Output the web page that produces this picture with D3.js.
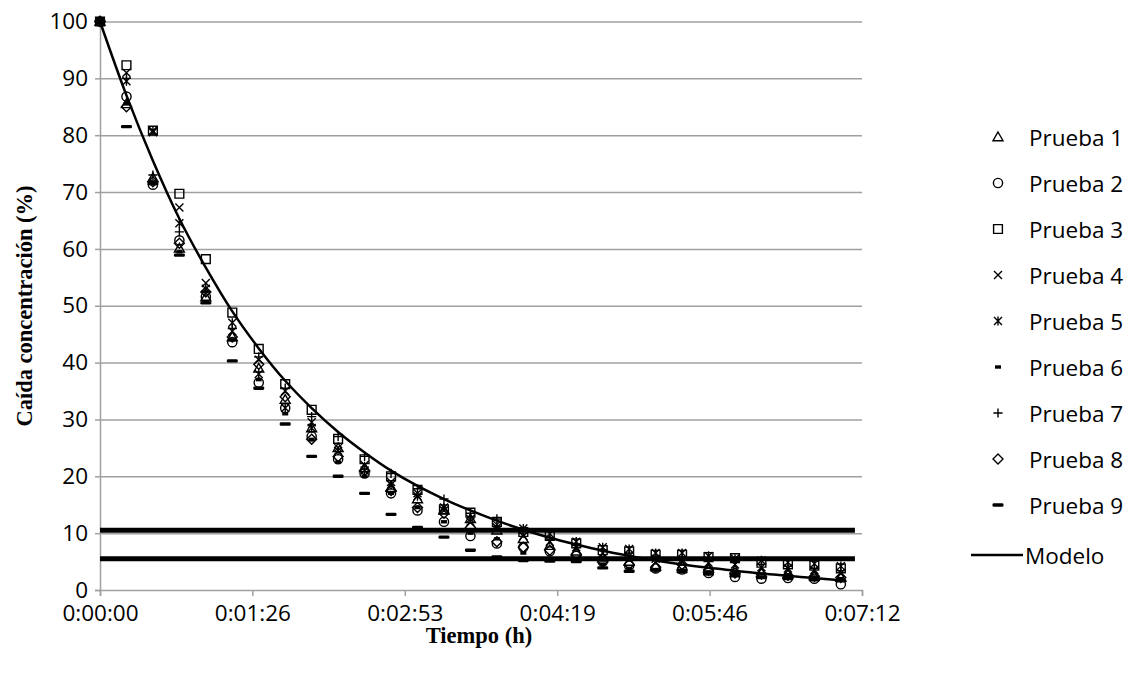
<!DOCTYPE html>
<html>
<head>
  <meta charset="utf-8">
  <title></title>
  <style>
    body { margin: 0; background: #fff; }
    text { font-family: "Open Sans", sans-serif; }
  </style>
</head>
<body>
  <script src="https://cdnjs.cloudflare.com/ajax/libs/d3/7.8.5/d3.min.js"></script>
  <script type="text/javascript">
    // tiempos de muestreo (s)
    var tiempos = [0, 15, 30, 45, 60, 75, 90, 105, 120, 135, 150, 165, 180, 195, 210, 225, 240, 255, 270, 285, 300, 315, 330, 345, 360, 375, 390, 405, 420];

    var prueba1 = [100, 85.5, 72.5, 60.1, 51.5, 44.5, 39, 33.5, 28.5, 25, 21.5, 18, 16, 14, 12.5, 10.5, 9, 7.8, 6.8, 5.6, 5, 4.2, 4.2, 3.8, 3.5, 3, 2.8, 2.5, 2.2];
    var prueba2 = [100, 86.8, 71.3, 61.5, 51.6, 43.6, 36.5, 32, 27, 23, 20.5, 17, 14, 12, 9.5, 8.2, 7.5, 6.8, 6, 5, 4.3, 3.8, 3.6, 3, 2.3, 2, 2.1, 2, 1];
    var prueba3 = [100, 92.3, 80.8, 69.7, 58.2, 48.8, 42.4, 36.2, 31.7, 26.6, 23, 20, 17.6, 14.2, 13.6, 12, 10.2, 9.5, 8.2, 7, 6.8, 6.2, 6.2, 5.8, 5.6, 4.8, 4.5, 4.3, 3.8];
    var prueba4 = [100, 91, 80.5, 67.3, 54, 45.5, 40.5, 35, 29.5, 25, 22, 19, 17, 14, 12, 11.5, 9.5, 8.5, 7.5, 6.5, 6, 5.5, 5, 4.8, 4.5, 4, 3.8, 3.5, 3];
    var prueba5 = [100, 89.5, 80.8, 64.5, 53, 47, 38, 32, 28.5, 24.5, 21, 18.5, 16.5, 14.5, 12.5, 11, 10.8, 9.9, 8.5, 7.5, 7.2, 6.5, 6.5, 6, 5.5, 5.2, 4.9, 4.6, 4.2];
    var prueba6 = [100, 85.5, 71.5, 59.5, 50.8, 44, 37, 31, 26.5, 22.5, 20, 17, 14.5, 12, 10, 9, 6.5, 5.5, 5.3, 4.5, 3.8, 3.6, 3.5, 3.2, 3, 2.8, 2.5, 2.3, 2];
    var prueba7 = [100, 90, 73, 63, 52.5, 46, 41, 35.5, 30.5, 27, 23.5, 20.5, 17.8, 16, 13.5, 12.5, 10, 8.8, 7.8, 7, 6.5, 6, 5.8, 5.2, 5, 4.5, 4.2, 3.8, 3.4];
    var prueba8 = [100, 85, 71.8, 61, 52.4, 44.5, 39.7, 34, 26.5, 23.5, 21, 17.5, 14.5, 13.5, 11, 8.5, 7.5, 7, 6.3, 5, 4.5, 4, 4.5, 3.5, 3, 2.8, 2.6, 2.4, 2.2];
    var prueba9 = [100, 81.5, 71.5, 58.9, 50.5, 40.3, 35.5, 29.2, 23.5, 20, 17, 13.3, 11, 9.3, 7, 5.8, 5.2, 5.1, 5, 3.9, 3.3, 3.5, 3.2, 2.8, 2.5, 2.2, 2, 1.8, 1.6];
    var modelo = [100, 87, 75.5, 65.3, 56.7, 49, 42.5, 36.8, 32, 27.8, 24.2, 21, 18.3, 16, 14, 12.2, 10.6, 9.2, 8, 6.9, 6, 5.2, 4.5, 3.9, 3.4, 2.9, 2.5, 2.1, 1.7];

    var limites = [10.5, 5.5];
    var limiteFin = 428;

    var nombres = ["Prueba 1", "Prueba 2", "Prueba 3", "Prueba 4", "Prueba 5", "Prueba 6", "Prueba 7", "Prueba 8", "Prueba 9"];
    var marcas = ["triangulo", "circulo", "cuadrado", "equis", "asterisco", "guion", "mas", "rombo", "barra"];

    var ticksX = [0, 86.4, 172.8, 259.2, 345.6, 432];
    var etiquetasX = ["0:00:00", "0:01:26", "0:02:53", "0:04:19", "0:05:46", "0:07:12"];
    var ticksY = [0, 10, 20, 30, 40, 50, 60, 70, 80, 90, 100];

    var series = [prueba1, prueba2, prueba3, prueba4, prueba5, prueba6, prueba7, prueba8, prueba9].map(function(v, i) {
      return { nombre: nombres[i], marca: marcas[i], puntos: v.map(function(c, j) { return { t: tiempos[j], c: c }; }) };
    });

    var width = 1129;
    var height = 673;
    var svg = d3.select('body')
      .append("svg")
      .attr("height", height)
      .attr("width", width);

    var x = d3.scaleLinear().domain([0, 432]).range([100, 862]);
    var y = d3.scaleLinear().domain([0, 100]).range([590, 21.5]);

    var gris = "#a0a0a0";
    var fuente = "'Open Sans', sans-serif";

    // grid
    svg.append("g")
      .attr("transform", "translate(100,0)")
      .call(d3.axisLeft(y).tickValues(ticksY.slice(1)).tickSize(-762).tickFormat(""))
      .call(function(g) {
        g.select(".domain").remove();
        g.selectAll("line").attr("stroke", gris).attr("stroke-width", 1.5);
      });

    // eje y
    svg.append("g")
      .attr("transform", "translate(100,0)")
      .call(d3.axisLeft(y).tickValues(ticksY).tickSize(5).tickPadding(7))
      .call(function(g) {
        g.select(".domain").attr("stroke", gris).attr("stroke-width", 1.5);
        g.selectAll("line").attr("stroke", gris).attr("stroke-width", 1.5);
        g.selectAll("text").attr("font-size", 22.5).attr("fill", "#000").style("font-family", fuente);
      });

    // eje x
    svg.append("g")
      .attr("transform", "translate(0,590)")
      .call(d3.axisBottom(x).tickValues(ticksX).tickSize(6).tickPadding(9)
        .tickFormat(function(d, i) { return etiquetasX[i]; }))
      .call(function(g) {
        g.select(".domain").attr("stroke", gris).attr("stroke-width", 1.5);
        g.selectAll("line").attr("stroke", gris).attr("stroke-width", 1.5);
        g.selectAll("text").attr("font-size", 22.5).attr("fill", "#000").style("font-family", fuente);
      });

    // titulos
    svg.append("text")
      .attr("transform", "translate(24,306) rotate(-90)")
      .attr("text-anchor", "middle")
      .attr("dominant-baseline", "central")
      .style("font-family", "'Liberation Serif', 'Times New Roman', serif")
      .style("font-weight", "bold")
      .style("font-size", "22.5px")
      .text("Caída concentración (%)");

    svg.append("text")
      .attr("x", 479)
      .attr("y", 643)
      .attr("text-anchor", "middle")
      .style("font-family", "'Liberation Serif', 'Times New Roman', serif")
      .style("font-weight", "bold")
      .style("font-size", "22.5px")
      .text("Tiempo (h)");

    // limites
    svg.selectAll(".limite").data(limites).enter().append("line")
      .attr("class", "limite")
      .attr("x1", x(0)).attr("x2", x(limiteFin))
      .attr("y1", function(d) { return y(d); })
      .attr("y2", function(d) { return y(d); })
      .attr("stroke", "#000").attr("stroke-width", 5);

    // modelo
    var linea = d3.line()
      .x(function(d, i) { return x(tiempos[i]); })
      .y(function(d) { return y(d); })
      .curve(d3.curveCatmullRom);
    svg.append("path")
      .datum(modelo)
      .attr("d", linea)
      .attr("fill", "none")
      .attr("stroke", "#000")
      .attr("stroke-width", 2.5);

    function dibujarMarca(g, marca) {
      var trazo = { fill: "none", stroke: "#000", "stroke-width": 1.4 };
      var el;
      if (marca === "circulo") {
        el = g.append("circle").attr("r", 4.6);
      } else if (marca === "guion") {
        el = g.append("rect").attr("x", -3).attr("y", -1.7).attr("width", 6).attr("height", 3.4);
        trazo = { fill: "#000", stroke: "none" };
      } else if (marca === "barra") {
        el = g.append("rect").attr("x", -5.5).attr("y", -1.7).attr("width", 11).attr("height", 3.4).attr("rx", 1.3);
        trazo = { fill: "#000", stroke: "none" };
      } else {
        var d = {
          triangulo: "M0,-5L5,3.7L-5,3.7Z",
          cuadrado: "M-4.4,-4.4H4.4V4.4H-4.4Z",
          equis: "M-4,-4L4,4M-4,4L4,-4",
          asterisco: "M-4,-4L4,4M-4,4L4,-4M0,-4.6V4.6",
          mas: "M-4.6,0H4.6M0,-4.6V4.6",
          rombo: "M0,-5L5,0L0,5L-5,0Z"
        }[marca];
        el = g.append("path").attr("d", d);
      }
      Object.keys(trazo).forEach(function(k) { el.attr(k, trazo[k]); });
    }

    // puntos
    series.forEach(function(s) {
      var grupo = svg.append("g");
      grupo.selectAll("g").data(s.puntos).enter().append("g")
        .attr("transform", function(d) { return "translate(" + x(d.t) + "," + y(d.c) + ")"; })
        .each(function() { dibujarMarca(d3.select(this), s.marca); });
    });

    // leyenda
    var leyenda = svg.append("g");
    var filas = leyenda.selectAll("g").data(series).enter().append("g")
      .attr("transform", function(d, i) { return "translate(998," + (137 + i * 46) + ")"; });
    filas.each(function(d) { dibujarMarca(d3.select(this), d.marca); });
    filas.append("text")
      .attr("x", 31)
      .attr("dominant-baseline", "central")
      .attr("font-size", 22.5)
      .text(function(d) { return d.nombre; });

    var filaModelo = leyenda.append("g").attr("transform", "translate(998," + (137 + 8 * 46 + 50) + ")");
    filaModelo.append("line").attr("x1", -27).attr("x2", 25).attr("stroke", "#000").attr("stroke-width", 2.5);
    filaModelo.append("text")
      .attr("x", 27)
      .attr("dominant-baseline", "central")
      .attr("font-size", 22.5)
      .text("Modelo");
  </script>
</body>
</html>
